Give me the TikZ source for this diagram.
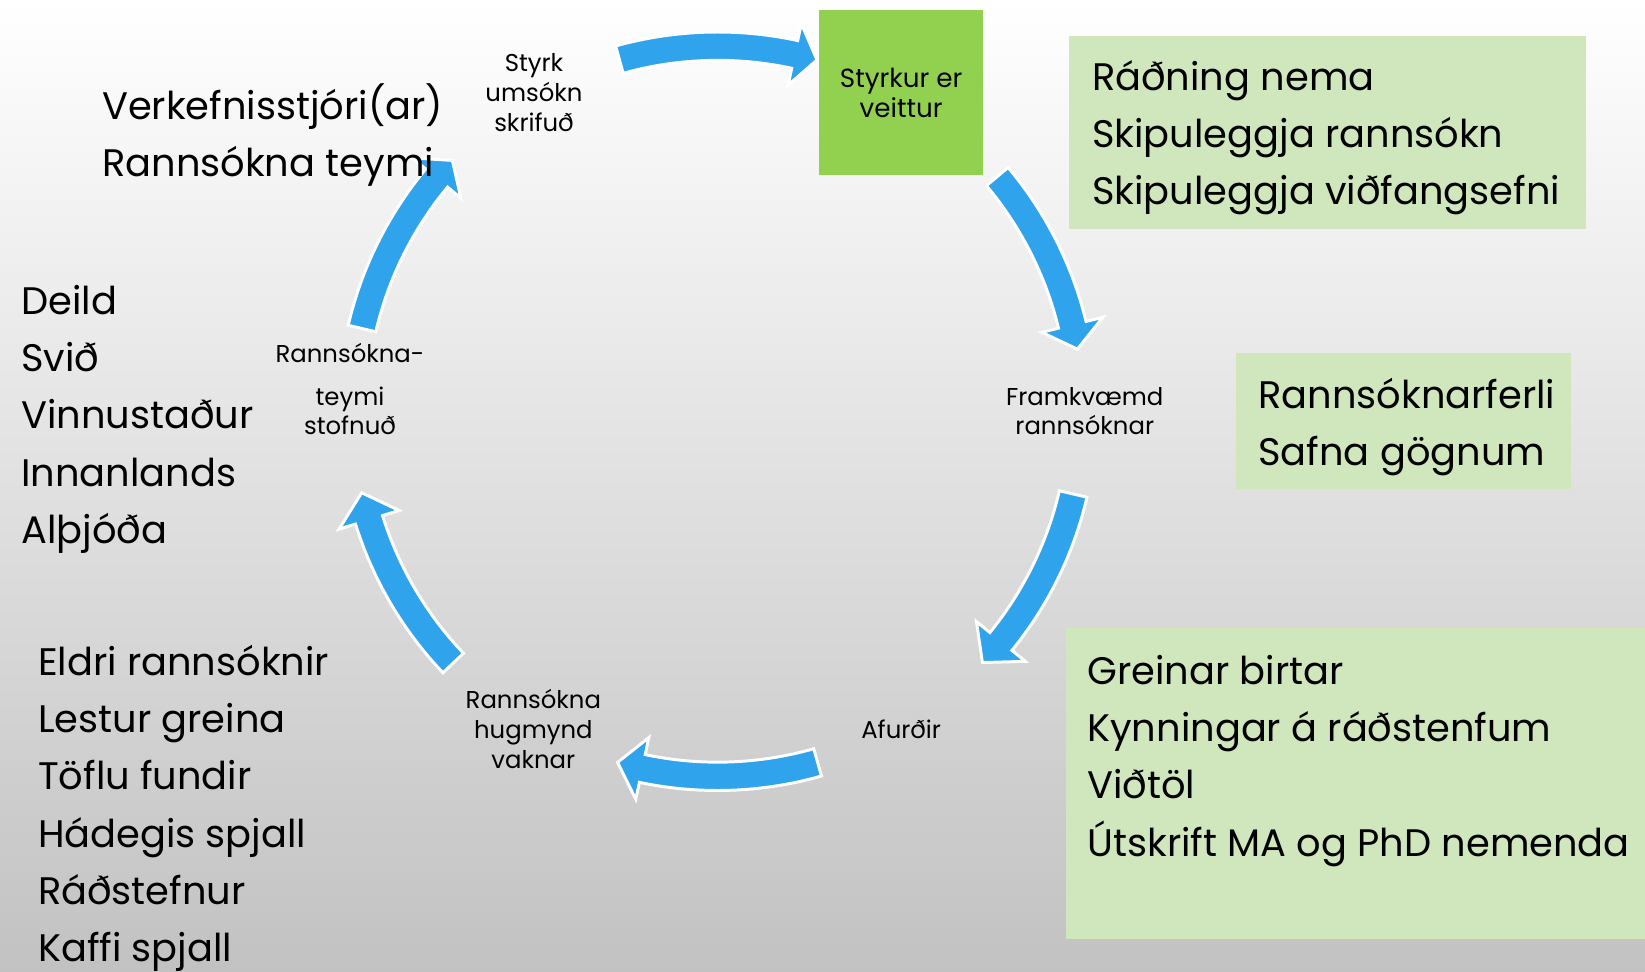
\documentclass[tikz,border=0pt]{standalone}
\usepackage{fontspec}
\setmainfont{Poppins}
\definecolor{cyclearrow}{RGB}{47,163,236}
\definecolor{grantgreen}{RGB}{146,208,80}
\definecolor{notegreen}{RGB}{208,230,189}
\tikzset{
	bigtxt/.style={anchor=base west, align=left, inner sep=0pt, font=\fontsize{10.4}{15.5}\selectfont},
	smalltxt/.style={anchor=base, align=center, inner sep=0pt, font=\fontsize{6.6}{8.1}\selectfont},
	cycarr/.style={fill=cyclearrow, draw=white, line width=0.8pt},
}
% tail angle, head base angle, tip angle
\newcommand{\cycarrow}[3]{%
	\path[cycarr] (#1:361.5) arc[start angle=#1, end angle=#2, radius=361.5] -- (#2:378) -- (#3:348)
		-- (#2:318) -- (#2:334.5) arc[start angle=#2, end angle=#1, radius=334.5] -- cycle;}
\begin{document}
\begin{tikzpicture}[x=0.01cm,y=0.01cm]
			\shade[top color=white, middle color=black!8, bottom color=black!24](0,0)rectangle(1568,926);
			\useasboundingbox(0,0)rectangle(1568,926);
			\fill[notegreen](1019,708)rectangle(1512,892);
			\fill[notegreen](1178,460)rectangle(1497,590);
			\fill[notegreen](1016,31)rectangle(1568,327);
			\begin{scope}[shift={(684,534)}]
				\cycarrow{105.6}{77.8}{74.2}
				\cycarrow{40}{13.7}{9.8}
				\cycarrow{-13.1}{-39.1}{-43.5}
				\cycarrow{-74.1}{-101.9}{-105.9}
				\cycarrow{-136.4}{-162.7}{-167.1}
				\cycarrow{166.9}{140.3}{136.6}
			\end{scope}
			\node[fill=grantgreen, minimum width=1.56cm, minimum height=1.57cm, align=center, inner sep=0pt,
				font=\fontsize{7.1}{8.1}\selectfont](award)at(859,837.5){Styrkur er\\veittur};
			\node[smalltxt](grant)at(509,800.5){Styrk\\umsókn\\skrifuð};
			\node[smalltxt](execution)at(1034,511.4){Framkvæmd\\rannsóknar};
			\node[smalltxt](output)at(859,222.4){Afurðir};
			\node[smalltxt](idea)at(508.4,193.8){Rannsókna\\hugmynd\\vaknar};
			\node[smalltxt](team)at(333.6,511.4){Rannsókna-\\[3.5pt]teymi\\stofnuð};
			\node[bigtxt](roles)at(96.7,757.6){Verkefnisstjóri(ar)\\Rannsókna teymi};
			\node[bigtxt](levels)at(19.7,408.2){Deild\\Svið\\Vinnustaður\\Innanlands\\Alþjóða};
			\node[bigtxt](sources)at(35.6,9.5){Eldri rannsóknir\\Lestur greina\\Töflu fundir\\Hádegis spjall\\Ráðstefnur\\Kaffi spjall};
			\node[bigtxt](planning)at(1040.4,730.6){Ráðning nema\\Skipuleggja rannsókn\\Skipuleggja viðfangsefni};
			\node[bigtxt](process)at(1198.7,482){Rannsóknarferli\\Safna gögnum};
			\node[bigtxt](results)at(1035.8,110){Greinar birtar\\Kynningar á ráðstenfum\\Viðtöl\\Útskrift MA og PhD nemenda};
		\end{tikzpicture}
\end{document}
